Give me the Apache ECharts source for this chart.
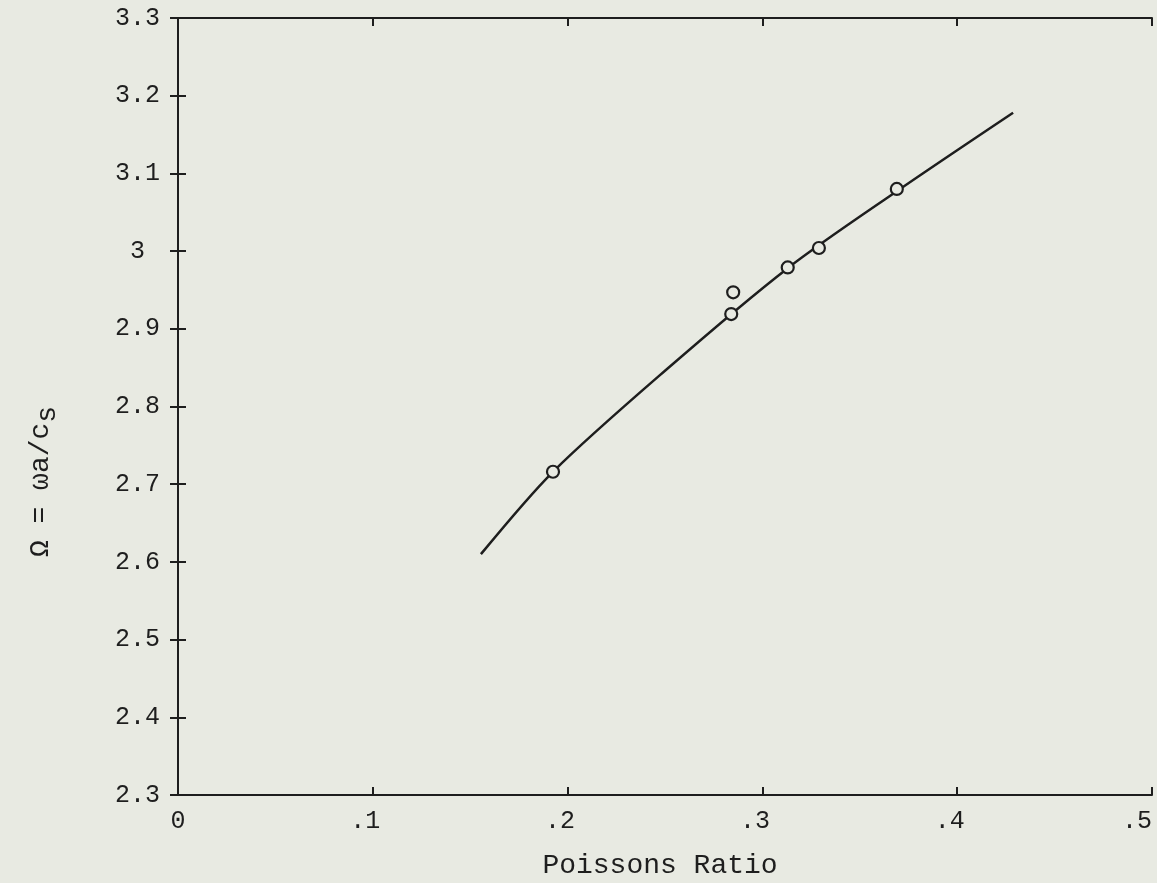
<!DOCTYPE html>
<html>
<head>
<meta charset="utf-8">
<script src="https://cdn.jsdelivr.net/npm/echarts@6/dist/echarts.min.js"></script>
<style>
html,body{margin:0;padding:0;background:#e8eae2;}
#c{width:1157px;height:883px;}
</style>
</head>
<body>
<div id="c"></div>
<script>
// Poisson's ratio (x) and normalized frequency Omega = wa/c_s (y)
const pointX = [0.1925, 0.284, 0.285, 0.313, 0.329, 0.369];
const pointY = [2.716, 2.919, 2.947, 2.979, 3.004, 3.080];
const curveX = [0.1555, 0.1925, 0.25, 0.313, 0.369, 0.4287];
const curveY = [2.610, 2.716, 2.846, 2.978, 3.077, 3.178];
const xTickLabels = ['0', '.1', '.2', '.3', '.4', '.5'];
const xTickValues = [0, 0.1, 0.2, 0.3, 0.4, 0.5];

const ink = '#1e1e1e';
const bg = '#e8eae2';
const font = '"Liberation Mono", "DejaVu Sans Mono", monospace';

function xFmt(v){
  const i = xTickValues.findIndex(t => Math.abs(t - v) < 1e-6);
  if (i < 0) return '';
  const s = xTickLabels[i];
  // typewritten labels: digit sits on the tick, leading dot to its left
  if (i === 0) return s;
  if (i === xTickLabels.length - 1) return s + '  ';
  return s + ' ';
}
function yFmt(v){
  const r = Math.round(v * 10) / 10;
  return Math.abs(r - Math.round(r)) < 1e-6 ? ' ' + String(Math.round(r)) : r.toFixed(1);
}

const chart = echarts.init(document.getElementById('c'));
const axisCommon = {
  axisLine: {show: true, lineStyle: {color: ink, width: 2}},
  axisTick: {show: true, inside: true, length: 8, lineStyle: {color: ink, width: 2}},
  splitLine: {show: false}
};
chart.setOption({
  backgroundColor: bg,
  animation: false,
  grid: {left: 178, right: 5, top: 18, bottom: 88, containLabel: false, outerBoundsMode: 'none'},
  xAxis: [
    Object.assign({
      type: 'value', min: 0, max: 0.5, interval: 0.1, position: 'bottom',
      name: 'Poissons Ratio', nameLocation: 'middle', nameGap: 57,
      nameTextStyle: {fontFamily: font, fontSize: 28, color: ink, padding: [0, 10, 0, 0]},
      axisLabel: {formatter: xFmt, fontFamily: font, fontSize: 25, color: ink, margin: 14}
    }, axisCommon),
    Object.assign({
      type: 'value', min: 0, max: 0.5, interval: 0.1, position: 'top',
      axisLabel: {show: false}
    }, axisCommon)
  ],
  yAxis: [
    Object.assign({
      type: 'value', min: 2.3, max: 3.3, interval: 0.1, position: 'left',
      name: 'Ω = ωa/c{sub|s}', nameLocation: 'middle', nameGap: 116, nameRotate: 90,
      nameTextStyle: {fontFamily: font, fontSize: 28, color: ink, padding: [0, 150, 0, 0],
        rich: {sub: {fontFamily: font, fontSize: 28, color: ink, verticalAlign: 'bottom', padding: [15, 0, 0, 0]}}},
      axisLabel: {formatter: yFmt, fontFamily: font, fontSize: 25, color: ink, margin: 63, align: 'left'}
    }, axisCommon),
    Object.assign({
      type: 'value', min: 2.3, max: 3.3, interval: 0.1, position: 'right',
      axisLabel: {show: false}
    }, axisCommon)
  ],
  series: [
    {
      type: 'line', smooth: 0.3, showSymbol: false, xAxisIndex: 0, yAxisIndex: 0,
      lineStyle: {color: ink, width: 2.5},
      data: curveX.map((x, i) => [x, curveY[i]]), z: 2
    },
    {
      type: 'scatter', xAxisIndex: 0, yAxisIndex: 0, symbol: 'circle', symbolSize: 12,
      itemStyle: {color: bg, borderColor: ink, borderWidth: 2.2, opacity: 1},
      data: pointX.map((x, i) => [x, pointY[i]]), z: 3
    }
  ]
});
</script>
</body>
</html>
